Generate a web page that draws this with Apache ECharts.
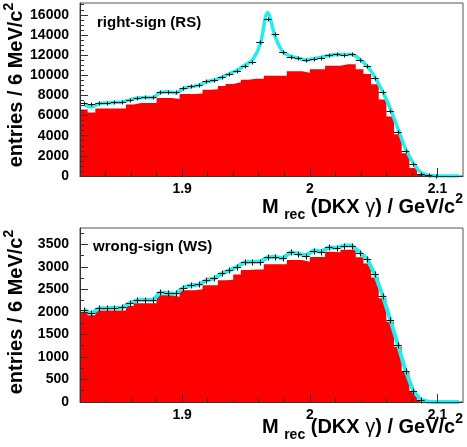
<!DOCTYPE html>
<html>
<head>
<meta charset="utf-8">
<script src="https://cdn.jsdelivr.net/npm/echarts@6/dist/echarts.min.js"></script>
<style>
html, body { margin: 0; padding: 0; background: #fff; }
#chart { width: 467px; height: 447px; }
</style>
</head>
<body>
<div id="chart"></div>
<script>
// 50 bins of 6 MeV, 1.82 .. 2.12 GeV
const binLo = 1.82;
const binW = 0.006;

// right-sign: background histogram (red), data, fit curve
const rsBkg = [6600, 6300, 6700, 6700, 6700, 6700, 7100, 7250, 7250, 7250,
  7750, 7750, 7650, 8150, 8150, 8200, 8550, 8600, 8930, 9130,
  9300, 9550, 9650, 9650, 9960, 9960, 9960, 10400, 10400, 10250,
  10600, 10600, 10950, 10950, 11100, 11100, 10600, 10130, 9100, 7600,
  5900, 4150, 2250, 800, 170, 40, 0, 0, 0, 0];
const rsData = [7250, 7150, 7200, 7250, 7300, 7350, 7500, 7700, 7800, 7850,
  8300, 8350, 8300, 8700, 8900, 9000, 9400, 9500, 9850, 10150,
  10450, 10950, 11350, 13250, 15600, 14100, 12350, 11850, 11700, 11500,
  11600, 11700, 12000, 12100, 12050, 12100, 11500, 10950, 9750, 8350,
  6450, 4400, 2500, 1150, 200, 70, 20, 0, 0, 0];
const rsFit = [7100, 6850, 7200, 7250, 7300, 7350, 7550, 7750, 7800, 7800,
  8300, 8350, 8250, 8700, 8850, 9000, 9350, 9500, 9800, 10150,
  10500, 11000, 11500, 13000, 16200, 13800, 12300, 11900, 11700, 11500,
  11650, 11800, 11950, 12050, 12050, 12050, 11600, 10900, 9800, 8400,
  6700, 4700, 2700, 1300, 350, 80, 10, 0, 0, 0];

// wrong-sign
const wsBkg = [2000, 1925, 2030, 2030, 2030, 2030, 2130, 2190, 2190, 2190,
  2370, 2370, 2335, 2480, 2480, 2500, 2590, 2590, 2700, 2710,
  2830, 2930, 2940, 2940, 3055, 3055, 3055, 3150, 3150, 3110,
  3215, 3215, 3335, 3320, 3375, 3375, 3210, 3075, 2760, 2300,
  1780, 1225, 670, 245, 40, 0, 0, 0, 0, 0];
const wsData = [2050, 1965, 2090, 2080, 2090, 2100, 2200, 2260, 2260, 2260,
  2430, 2425, 2410, 2540, 2595, 2610, 2706, 2743, 2854, 2928,
  3000, 3100, 3113, 3113, 3210, 3224, 3187, 3321, 3284, 3247,
  3358, 3336, 3432, 3410, 3462, 3469, 3314, 3165, 2832, 2358,
  1817, 1261, 690, 245, 38, 0, 0, 0, 0, 0];
const wsFit = [2050, 1960, 2080, 2080, 2090, 2090, 2200, 2260, 2260, 2260,
  2430, 2420, 2400, 2540, 2590, 2600, 2700, 2740, 2850, 2920,
  3000, 3100, 3110, 3110, 3210, 3220, 3190, 3320, 3290, 3250,
  3360, 3340, 3430, 3420, 3470, 3470, 3320, 3170, 2830, 2370,
  1830, 1270, 700, 250, 45, 5, 0, 0, 0, 0];

const xMajor = [1.9, 2.0, 2.1];
const xMinor = [1.84, 1.86, 1.88, 1.92, 1.94, 1.96, 1.98, 2.02, 2.04, 2.06, 2.08];
const rsYMajor = [0, 2000, 4000, 6000, 8000, 10000, 12000, 14000, 16000];
const rsYMinor = [500, 1000, 1500, 2500, 3000, 3500, 4500, 5000, 5500, 6500, 7000, 7500,
  8500, 9000, 9500, 10500, 11000, 11500, 12500, 13000, 13500, 14500, 15000, 15500, 16500, 17000];
const wsYMajor = [0, 500, 1000, 1500, 2000, 2500, 3000, 3500];
const wsYMinor = [250, 750, 1250, 1750, 2250, 2750, 3250, 3750];

const xMin = 1.82, xMax = 2.12;
const rsYMax = 17170, wsYMax = 3860;

const FONT = "'Liberation Sans', Arial, sans-serif";
const RED = '#ff0000';
const CYAN = '#22eeee';

const chart = echarts.init(document.getElementById('chart'));

// bin left edges + closing right edge, drawn as a step area
function histRows(vals) {
  const rows = vals.map((v, i) => [binLo + binW * i, v]);
  rows.push([binLo + binW * vals.length, vals[vals.length - 1]]);
  return rows;
}
function pointRows(vals) {
  return vals.map((v, i) => [binLo + binW * (i + 0.5), v]);
}

function crossItem(errPx) {
  return function (params, api) {
    const x = api.value(0), y = api.value(1);
    if (!(y > 0)) return null;
    const c = api.coord([x, y]);
    const l = api.coord([x - binW / 2, y]);
    const r = api.coord([x + binW / 2, y]);
    const yy = Math.round(c[1]) + 0.5, xx = Math.round(c[0]) + 0.5;
    return {
      type: 'group',
      children: [
        { type: 'line', shape: { x1: l[0], y1: yy, x2: r[0], y2: yy }, style: { stroke: '#111', lineWidth: 1 } },
        { type: 'line', shape: { x1: xx, y1: yy - errPx, x2: xx, y2: yy + errPx }, style: { stroke: '#111', lineWidth: 1 } }
      ]
    };
  };
}

function xAxes(grid) {
  return [
    {
      type: 'value', gridIndex: grid, min: xMin, max: xMax, position: 'bottom', z: 5,
      axisLine: { lineStyle: { color: '#333', width: 1 } },
      axisTick: { customValues: xMajor, inside: true, length: 8, lineStyle: { color: '#333' } },
      axisLabel: {
        customValues: xMajor, margin: 6, color: '#000', fontSize: 14, fontWeight: 'bold', fontFamily: FONT,
        formatter: v => String(Math.round(v * 10) / 10)
      },
      splitLine: { show: false }
    },
    {
      type: 'value', gridIndex: grid, min: xMin, max: xMax, position: 'bottom', z: 5,
      axisLine: { show: false },
      axisTick: { customValues: xMinor, inside: true, length: 4, lineStyle: { color: '#333' } },
      axisLabel: { show: false },
      splitLine: { show: false }
    }
  ];
}

function yAxes(grid, yMax, major, minor) {
  return [
    {
      type: 'value', gridIndex: grid, min: 0, max: yMax, position: 'left', z: 5,
      axisLine: { show: true, lineStyle: { color: '#333', width: 1 } },
      axisTick: { show: true, customValues: major, inside: true, length: 8, lineStyle: { color: '#333' } },
      axisLabel: {
        customValues: major, margin: 11, color: '#000', fontSize: 14, fontWeight: 'bold', fontFamily: FONT,
        formatter: v => String(v)
      },
      splitLine: { show: false }
    },
    {
      type: 'value', gridIndex: grid, min: 0, max: yMax, position: 'left', z: 5,
      axisLine: { show: false },
      axisTick: { show: true, customValues: minor, inside: true, length: 4, lineStyle: { color: '#333' } },
      axisLabel: { show: false },
      splitLine: { show: false }
    }
  ];
}

function panelSeries(ax, bkg, data, fit, smooth, fitWidth, errPx) {
  return [
    {
      type: 'line', xAxisIndex: ax, yAxisIndex: ax, data: histRows(bkg), step: 'end',
      showSymbol: false, lineStyle: { width: 0, color: RED }, areaStyle: { color: RED, opacity: 1 },
      z: 1, silent: true
    },
    {
      type: 'line', xAxisIndex: ax, yAxisIndex: ax, data: pointRows(fit), smooth: smooth,
      showSymbol: false, lineStyle: { color: CYAN, width: fitWidth }, z: 2, silent: true
    },
    {
      type: 'custom', xAxisIndex: ax, yAxisIndex: ax, renderItem: crossItem(errPx),
      encode: { x: 0, y: 1 }, data: pointRows(data), z: 3, silent: true
    }
  ];
}

const richTitle = {
  m: { fontSize: 20, fontWeight: 'bold', fontFamily: FONT, lineHeight: 30, verticalAlign: 'middle', fill: '#000' },
  s: { fontSize: 14, fontWeight: 'bold', fontFamily: FONT, lineHeight: 16, verticalAlign: 'bottom', fill: '#000' },
  g: { fontSize: 20, fontWeight: 'normal', fontFamily: FONT, lineHeight: 30, verticalAlign: 'middle', fill: '#000' },
  p: { fontSize: 14, fontWeight: 'bold', fontFamily: FONT, lineHeight: 20, verticalAlign: 'top', fill: '#000' }
};
const richY = {
  m: { fontSize: 20, fontWeight: 'bold', fontFamily: FONT, lineHeight: 28, verticalAlign: 'middle', fill: '#000' },
  p: { fontSize: 14, fontWeight: 'bold', fontFamily: FONT, lineHeight: 18, verticalAlign: 'top', fill: '#000' }
};
const xTitle = '{m|M }{s|rec}{m| (DKX }{g|γ}{m|) / GeV/c}{p|2}';
const yTitle = '{m|entries / 6 MeV/c}{p|2}';

const option = {
  animation: false,
  backgroundColor: '#fff',
  grid: [
    { left: 80, top: 3, width: 383, height: 173, show: true, borderColor: '#555', borderWidth: 1 },
    { left: 80, top: 228, width: 383, height: 174, show: true, borderColor: '#555', borderWidth: 1 }
  ],
  xAxis: [...xAxes(0), ...xAxes(1)],
  yAxis: [...yAxes(0, rsYMax, rsYMajor, rsYMinor), ...yAxes(1, wsYMax, wsYMajor, wsYMinor)],
  series: [
    ...panelSeries(0, rsBkg, rsData, rsFit, 0.35, 3.5, 2),
    ...panelSeries(2, wsBkg, wsData, wsFit, false, 4, 3)
  ],
  graphic: [
    { type: 'text', left: 97, top: 15, z: 10,
      style: { text: 'right-sign (RS)', fontSize: 15, fontWeight: 'bold', fontFamily: FONT, fill: '#000' } },
    { type: 'text', left: 93, top: 239, z: 10,
      style: { text: 'wrong-sign (WS)', fontSize: 15, fontWeight: 'bold', fontFamily: FONT, fill: '#000' } },
    { type: 'text', x: 463, y: 192, z: 10,
      style: { text: xTitle, rich: richTitle, align: 'right', verticalAlign: 'top' } },
    { type: 'text', x: 463, y: 412, z: 10,
      style: { text: xTitle, rich: richTitle, align: 'right', verticalAlign: 'top' } },
    { type: 'text', x: 16, y: 85, rotation: Math.PI / 2, z: 10,
      style: { text: yTitle, rich: richY, align: 'center', verticalAlign: 'middle' } },
    { type: 'text', x: 16, y: 312, rotation: Math.PI / 2, z: 10,
      style: { text: yTitle, rich: richY, align: 'center', verticalAlign: 'middle' } }
  ]
};

chart.setOption(option);
</script>
</body>
</html>
